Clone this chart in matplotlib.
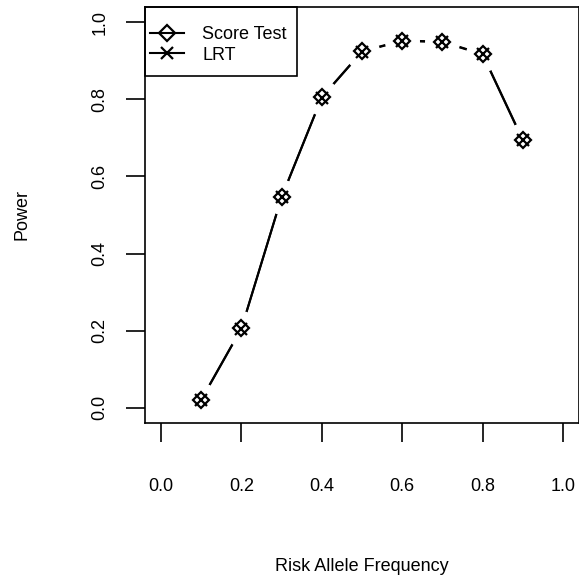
import matplotlib
matplotlib.use("Agg")
import matplotlib.pyplot as plt
from matplotlib.lines import Line2D
from matplotlib.patches import Rectangle

plt.rcParams['font.family'] = ['Liberation Sans', 'DejaVu Sans']

freq = [0.1, 0.2, 0.3, 0.4, 0.5, 0.6, 0.7, 0.8, 0.9]
score_power = [0.021, 0.206, 0.547, 0.806, 0.925, 0.953, 0.950, 0.918, 0.696]
lrt_power = [0.020, 0.205, 0.546, 0.805, 0.924, 0.952, 0.949, 0.917, 0.694]
ticks = [0.0, 0.2, 0.4, 0.6, 0.8, 1.0]
tick_labels = ["0.0", "0.2", "0.4", "0.6", "0.8", "1.0"]

fig = plt.figure(figsize=(5.79, 5.78), dpi=100)
ax = fig.add_axes([145 / 579, 1 - 423 / 578, 434 / 579, 416 / 578])

# type="b" style: lines broken around the points
for y in (score_power, lrt_power):
    ax.plot(freq, y, color="black", lw=1.5, zorder=2)
    ax.plot(freq, y, ls="none", marker="o", ms=25, mfc="white", mec="none", zorder=3)
ax.plot(freq, score_power, ls="none", marker="D", ms=8, mfc="none", mec="black", mew=1.6, zorder=4)
ax.plot(freq, lrt_power, ls="none", marker="x", ms=8, mec="black", mew=1.6, zorder=4)

ax.set_xlim(-0.04, 1.04)
ax.set_ylim(-0.04, 1.04)
ax.set_xticks(ticks)
ax.set_xticklabels(tick_labels)
ax.set_yticks(ticks)
ax.set_yticklabels(tick_labels, rotation=90, va="center")
ax.tick_params(direction="out", length=13.5, width=1.2, labelsize=13)
ax.tick_params(axis="x", pad=26)
ax.tick_params(axis="y", pad=13)
for s in ax.spines.values():
    s.set_linewidth(1.2)

ax.set_xlabel("Risk Allele Frequency", fontsize=13, va="center")
ax.set_ylabel("Power", fontsize=13, va="center")
ax.xaxis.set_label_coords(0.5, -0.346)
ax.yaxis.set_label_coords(-0.284, 0.5)

handles = [
    Line2D([], [], color="black", lw=1.5, marker="D", ms=8, mfc="none", mew=1.6),
    Line2D([], [], color="black", lw=1.5, marker="x", ms=8, mew=1.6),
]
leg = ax.legend(handles, ["Score Test", "LRT"], loc="upper left",
                bbox_to_anchor=(5 / 434, 1 - 19 / 416), borderaxespad=0, borderpad=0,
                fontsize=13, frameon=False,
                handlelength=1.9, handletextpad=1.0, labelspacing=0.2)
ax.add_patch(Rectangle((0, 1 - 69 / 416), 152 / 434, 69 / 416, transform=ax.transAxes,
                       fill=False, ec="black", lw=1.2, zorder=5, clip_on=False))

fig.savefig("out.png", dpi=100)
